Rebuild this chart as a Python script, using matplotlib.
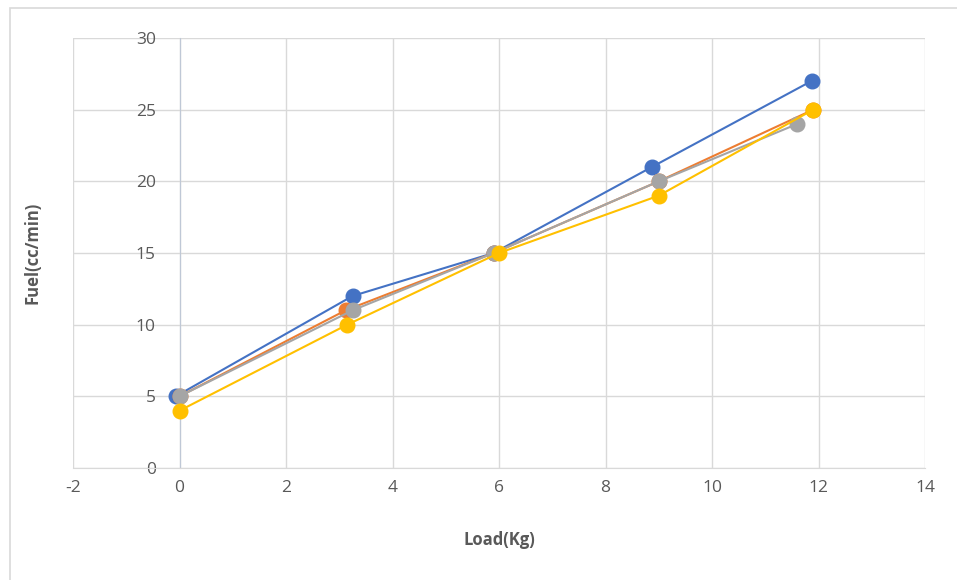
import matplotlib
matplotlib.use("Agg")
import matplotlib.pyplot as plt
from matplotlib.patches import Rectangle

plt.rcParams['font.family'] = ['Open Sans', 'DejaVu Sans']
plt.rcParams['axes.unicode_minus'] = False

load_blue = [-0.07, 3.25, 5.9, 8.87, 11.87]
fuel_blue = [5, 12, 15, 21, 27]
load_orange = [0, 3.12, 5.9, 9.0, 11.9]
fuel_orange = [5, 11, 15, 20, 25]
load_gray = [0, 3.25, 5.9, 9.0, 11.6]
fuel_gray = [5, 11, 15, 20, 24]
load_yellow = [0, 3.15, 6.0, 9.0, 11.9]
fuel_yellow = [4, 10, 15, 19, 25]

series = [
    (load_blue, fuel_blue, '#4472C4'),
    (load_orange, fuel_orange, '#ED7D31'),
    (load_gray, fuel_gray, '#A5A5A5'),
    (load_yellow, fuel_yellow, '#FFC000'),
]

fig = plt.figure(figsize=(9.57, 5.8), dpi=100)
fig.patches.append(Rectangle((10/957, -0.05), 1.2, (580-8)/580 + 0.05, transform=fig.transFigure,
                             fill=False, edgecolor='#D9D9D9', linewidth=1.2))
ax = fig.add_axes([73/957, (580-468)/580, 852/957, 430/580])

for x, y, c in series:
    ax.plot(x, y, color=c, linewidth=1.5, marker='o', markersize=10.5,
            markeredgecolor=c, markerfacecolor=c, zorder=3)

ax.set_xlim(-2, 14)
ax.set_ylim(0, 30)
ax.set_xticks(range(-2, 15, 2))
ax.set_yticks(range(0, 31, 5))
ax.grid(True, color='#D9D9D9', linewidth=1)
ax.set_axisbelow(True)
for s in ['top', 'right']:
    ax.spines[s].set_visible(False)
ax.spines['left'].set_position(('data', 0))
ax.spines['left'].set_color('#BFC8D6')
ax.spines['bottom'].set_color('#D9D9D9')
ax.tick_params(length=0, labelsize=12.5, colors='#595959')
ax.tick_params(axis='y', pad=17)
ax.tick_params(axis='x', pad=9)

fig.text(33/957, 1 - 253/580, 'Fuel(cc/min)', rotation=90, ha='center', va='center',
         fontsize=12, fontweight='bold', color='#595959')
fig.text(499/957, 1 - 540/580, 'Load(Kg)', ha='center', va='center',
         fontsize=12, fontweight='bold', color='#595959')

fig.savefig('out.png', dpi=100)
